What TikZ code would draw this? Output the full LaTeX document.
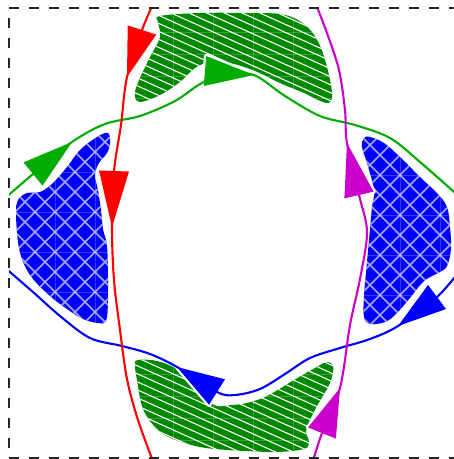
\documentclass[tikz,border=0pt]{standalone}
\usetikzlibrary{calc}
\definecolor{gblob}{RGB}{0,136,0}
\definecolor{gline}{RGB}{0,172,0}
\definecolor{mag}{RGB}{204,0,204}
\definecolor{hatchb}{RGB}{165,165,255}
\begin{document}
\begin{tikzpicture}[x=1pt,y=-1pt,
  curve/.style={line width=2.1pt, line cap=round},
  stripe/.style={white, line width=1.1pt},
  xhatch/.style={hatchb, line width=1.5pt},
  seam/.style={white, opacity=0.22, line width=0.5pt},
  border/.style={black!85, line width=1.3pt, dash pattern=on 10pt off 10pt}]
\useasboundingbox (0,0) rectangle (454,459);

\def\TGpath{plot[smooth cycle, tension=0.6] coordinates {(160,16) (200,13) (250,13) (280,14) (298,20) (312,32) (321,48) (327,67) (331,85) (332,98) (328,103) (318,100) (304,93) (280,83) (255,71) (230,63) (210,62) (195,68) (180,82) (162,94) (145,101) (137,101) (135,92) (140,78) (150,57) (160,37) (158,22)}}
\def\BGpath{plot[smooth cycle, tension=0.6] coordinates {(138,360) (157,361) (177,369) (193,382) (207,399) (217,406) (232,405) (247,403) (267,396) (294,380) (315,368) (327,362) (333,366) (332,377) (327,389) (317,406) (309,422) (306,432) (309,442) (304,449) (277,452) (247,451) (227,450) (200,447) (173,439) (157,429) (143,409) (137,380) (135,365)}}
\def\LBpath{plot[smooth cycle, tension=0.6] coordinates {(108,133) (110,143) (107,153) (99,163) (95,175) (98,190) (101,210) (103,229) (107,246) (108,279) (108,302) (106,321) (98,323) (83,319) (67,309) (50,296) (33,279) (23,262) (18,242) (16,213) (18,200) (27,193) (40,192) (53,183) (67,167) (80,150) (97,137)}}
\def\RBpath{plot[smooth cycle, tension=0.6] coordinates {(364,138) (370,137) (384,143) (400,157) (420,177) (437,193) (447,207) (450,227) (451,249) (447,266) (440,272) (424,281) (410,298) (396,314) (385,322) (370,324) (364,317) (364,296) (367,262) (370,229) (372,207) (374,190) (367,163) (362,147)}}

% green striped blobs
\foreach \P/\ya in {\TGpath/32, \BGpath/374}{
\begin{scope}
  \clip \P;
  \fill[gblob] (0,0) rectangle (454,459);
  \foreach \k in {-30,...,60} \draw[stripe] (0,8*\k) -- (460,8*\k+207);
  \foreach \x in {133,173,...,333} \draw[seam] (\x,0) -- (\x,459);
  \foreach \y in {0,1,2,3} \draw[seam] (0,\ya+22*\y) -- (454,\ya+22*\y);
\end{scope}}

% blue cross-hatched blobs
\begin{scope}
  \clip \LBpath;
  \fill[blue] (0,0) rectangle (454,459);
  \foreach \c in {-400,-380,...,100} \draw[xhatch] (\c+3,0) -- (\c+503,500);
  \foreach \d in {0,20,...,900} \draw[xhatch] (\d+7,0) -- (\d-493,500);
  \foreach \x in {15,55,95} \draw[seam] (\x,0) -- (\x,459);
  \foreach \y in {172,212,252,292} \draw[seam] (0,\y) -- (454,\y);
\end{scope}
\begin{scope}
  \clip \RBpath;
  \fill[blue] (0,0) rectangle (454,459);
  \foreach \c in {0,20,...,400} \draw[xhatch] (\c+5,0) -- (\c+505,500);
  \foreach \d in {300,320,...,1000} \draw[xhatch] (\d+15,0) -- (\d-485,500);
  \foreach \x in {360,400,440} \draw[seam] (\x,0) -- (\x,459);
  \foreach \y in {175,215,255,295} \draw[seam] (0,\y) -- (454,\y);
\end{scope}

% arrow head data: base centre / tip
\coordinate (rB1) at (142,30);  \coordinate (rT1) at (127,77);
\coordinate (rB2) at (114,171); \coordinate (rT2) at (112,227);
\coordinate (mB1) at (359,195); \coordinate (mT1) at (347,143);
\coordinate (mB2) at (322,433); \coordinate (mT2) at (340,388);
\coordinate (gB1) at (33,174);  \coordinate (gT1) at (72,142);
\coordinate (gB2) at (205,71);  \coordinate (gT2) at (254,75);
\coordinate (bB1) at (217,392); \coordinate (bT1) at (177,367);
\coordinate (bB2) at (437,297); \coordinate (bT2) at (398,326);

\newcommand\tripath[2]{($(#1)!15pt!90:(#2)$) -- (#2) -- ($(#1)!15pt!-90:(#2)$) -- cycle}

% white outlines of arrow heads
\foreach \b/\t in {rB1/rT1,rB2/rT2,mB1/mT1,mB2/mT2,gB1/gT1,gB2/gT2,bB1/bT1,bB2/bT2}
  \draw[white, line width=4.5pt, line join=round] \tripath{\b}{\t};

% curves
\begin{scope}
\clip (9,8) rectangle (470,458);
\draw[curve, gline] plot[smooth, tension=0.55] coordinates {(3,200) (33,174) (72,142) (105,124) (140,116) (175,101) (202,83) (228,75) (254,75) (285,96) (320,116) (355,125) (390,138) (420,162) (462,199)};
\draw[curve, blue] plot[smooth, tension=0.55] coordinates {(462,268) (437,297) (398,326) (370,339) (340,348) (310,358) (285,374) (260,389) (235,395) (217,392) (177,367) (150,354) (122,346) (90,338) (60,316) (33,292) (3,266)};
\draw[curve, red] plot[smooth, tension=0.55] coordinates {(154,2) (142,30) (127,77) (121,125) (114,171) (112,227) (114,280) (120,330) (127,379) (138,420) (154,464)};
\draw[curve, mag] plot[smooth, tension=0.55] coordinates {(312,464) (322,433) (340,388) (350,325) (360,279) (367,232) (359,195) (347,143) (345,110) (339,70) (327,33) (315,2)};
\end{scope}

% arrow heads
\fill[red]   \tripath{rB1}{rT1};
\fill[red]   \tripath{rB2}{rT2};
\fill[mag]   \tripath{mB1}{mT1};
\fill[mag]   \tripath{mB2}{mT2};
\fill[gline] \tripath{gB1}{gT1};
\fill[gline] \tripath{gB2}{gT2};
\fill[blue]  \tripath{bB1}{bT1};
\fill[blue]  \tripath{bB2}{bT2};

% dashed frame
\draw[border] (9,8) -- (470,8);
\draw[border] (9,458) -- (470,458);
\draw[border, dash phase=10pt] (9,8) -- (9,458);
\end{tikzpicture}
\end{document}
